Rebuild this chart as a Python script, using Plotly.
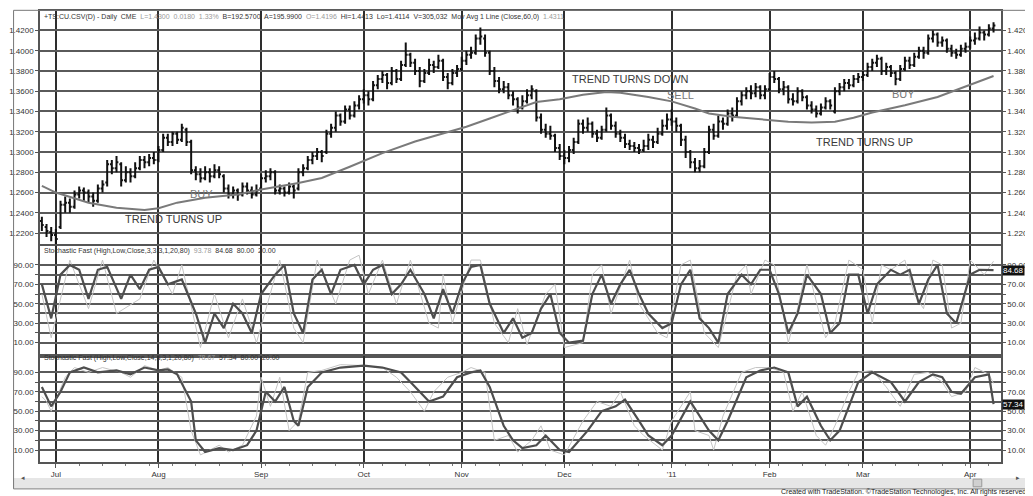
import pandas as pd
import plotly.graph_objects as go

# ---- data (Euro FX daily, Jun 2010 - Apr 2011) ----
dates = pd.bdate_range("2010-06-28", "2011-04-08")

opens = [1.232,1.226,1.221,1.218,1.226,1.248,1.250,1.246,1.258,1.262,
         1.260,1.256,1.252,1.264,1.270,1.288,1.284,1.288,1.272,1.280,
         1.276,1.284,1.292,1.290,1.294,1.292,1.302,1.314,1.310,1.318,
         1.312,1.322,1.310,1.282,1.278,1.274,1.280,1.276,1.282,1.276,
         1.264,1.258,1.262,1.258,1.266,1.262,1.258,1.264,1.274,1.276,
         1.280,1.262,1.264,1.260,1.266,1.264,1.280,1.284,1.292,1.296,
         1.300,1.300,1.318,1.324,1.336,1.330,1.342,1.336,1.346,1.352,
         1.356,1.352,1.366,1.372,1.376,1.368,1.380,1.372,1.386,1.396,
         1.388,1.380,1.370,1.378,1.386,1.384,1.390,1.374,1.368,1.378,
         1.382,1.390,1.396,1.398,1.412,1.412,1.398,1.380,1.370,1.362,
         1.364,1.356,1.352,1.344,1.350,1.356,1.360,1.334,1.322,1.318,
         1.316,1.304,1.296,1.294,1.302,1.310,1.328,1.324,1.328,1.318,
         1.314,1.322,1.336,1.326,1.318,1.314,1.308,1.306,1.304,1.302,
         1.306,1.312,1.310,1.318,1.326,1.332,1.330,1.326,1.312,1.300,
         1.290,1.284,1.286,1.300,1.322,1.316,1.330,1.328,1.338,1.336,
         1.350,1.356,1.360,1.358,1.364,1.356,1.362,1.374,1.372,1.362,
         1.364,1.352,1.350,1.360,1.354,1.346,1.342,1.338,1.344,1.350,
         1.340,1.360,1.364,1.368,1.366,1.372,1.374,1.376,1.384,1.388,
         1.392,1.380,1.384,1.378,1.372,1.382,1.390,1.386,1.394,1.400,
         1.398,1.412,1.416,1.408,1.410,1.402,1.398,1.396,1.402,1.404,
         1.410,1.412,1.418,1.416,1.422]
highs = [1.236,1.229,1.226,1.224,1.252,1.256,1.254,1.262,1.266,1.265,
         1.263,1.260,1.268,1.272,1.292,1.292,1.296,1.290,1.286,1.284,
         1.290,1.296,1.296,1.298,1.300,1.306,1.318,1.318,1.320,1.320,
         1.328,1.324,1.312,1.286,1.284,1.286,1.284,1.288,1.286,1.278,
         1.268,1.266,1.264,1.270,1.270,1.266,1.268,1.278,1.282,1.284,
         1.282,1.268,1.266,1.270,1.268,1.284,1.288,1.296,1.300,1.304,
         1.302,1.322,1.328,1.340,1.338,1.346,1.346,1.350,1.356,1.362,
         1.360,1.370,1.376,1.380,1.378,1.384,1.382,1.390,1.408,1.398,
         1.392,1.384,1.382,1.392,1.390,1.396,1.392,1.378,1.382,1.386,
         1.394,1.400,1.404,1.416,1.423,1.416,1.400,1.384,1.374,1.370,
         1.368,1.360,1.354,1.356,1.362,1.366,1.362,1.338,1.328,1.326,
         1.318,1.308,1.302,1.306,1.314,1.332,1.332,1.334,1.330,1.322,
         1.326,1.344,1.338,1.330,1.322,1.318,1.312,1.310,1.308,1.312,
         1.318,1.316,1.324,1.332,1.338,1.342,1.334,1.328,1.316,1.302,
         1.294,1.292,1.304,1.326,1.328,1.336,1.334,1.342,1.344,1.354,
         1.360,1.364,1.366,1.368,1.366,1.366,1.378,1.380,1.374,1.370,
         1.366,1.358,1.364,1.362,1.356,1.350,1.346,1.348,1.354,1.352,
         1.364,1.368,1.372,1.372,1.376,1.378,1.380,1.388,1.392,1.396,
         1.394,1.388,1.386,1.380,1.386,1.394,1.394,1.398,1.404,1.404,
         1.416,1.420,1.418,1.414,1.412,1.406,1.402,1.406,1.408,1.414,
         1.418,1.424,1.420,1.426,1.428]
lows = [1.222,1.216,1.212,1.209,1.224,1.240,1.240,1.244,1.254,1.252,
        1.250,1.246,1.250,1.260,1.266,1.278,1.280,1.266,1.270,1.270,
        1.274,1.282,1.284,1.286,1.288,1.290,1.300,1.306,1.306,1.308,
        1.310,1.306,1.278,1.272,1.270,1.272,1.270,1.274,1.274,1.260,
        1.254,1.254,1.252,1.256,1.258,1.254,1.256,1.262,1.270,1.272,
        1.258,1.258,1.256,1.258,1.254,1.262,1.276,1.282,1.288,1.292,
        1.290,1.298,1.314,1.320,1.326,1.328,1.332,1.334,1.342,1.348,
        1.346,1.350,1.362,1.368,1.362,1.366,1.368,1.370,1.384,1.384,
        1.376,1.364,1.368,1.376,1.378,1.382,1.370,1.362,1.366,1.374,
        1.380,1.386,1.392,1.396,1.406,1.394,1.376,1.364,1.358,1.358,
        1.352,1.346,1.338,1.342,1.348,1.352,1.330,1.318,1.314,1.312,
        1.300,1.292,1.288,1.290,1.298,1.308,1.318,1.320,1.314,1.310,
        1.312,1.320,1.322,1.314,1.310,1.304,1.302,1.300,1.298,1.300,
        1.302,1.304,1.308,1.316,1.322,1.326,1.320,1.306,1.294,1.284,
        1.280,1.280,1.284,1.298,1.312,1.314,1.322,1.326,1.330,1.334,
        1.346,1.352,1.352,1.354,1.352,1.352,1.360,1.368,1.358,1.356,
        1.348,1.346,1.348,1.350,1.342,1.338,1.334,1.336,1.342,1.342,
        1.338,1.356,1.360,1.362,1.364,1.368,1.370,1.374,1.380,1.384,
        1.376,1.376,1.374,1.366,1.370,1.380,1.382,1.384,1.392,1.392,
        1.396,1.408,1.404,1.404,1.398,1.394,1.392,1.394,1.398,1.402,
        1.406,1.410,1.410,1.414,1.418]
closes = [1.228,1.222,1.218,1.214,1.248,1.250,1.246,1.258,1.262,1.260,
          1.256,1.252,1.264,1.268,1.288,1.284,1.290,1.272,1.280,1.276,
          1.284,1.292,1.290,1.294,1.292,1.302,1.314,1.310,1.318,1.312,
          1.324,1.310,1.282,1.278,1.274,1.280,1.276,1.282,1.278,1.264,
          1.258,1.262,1.258,1.266,1.262,1.258,1.262,1.274,1.276,1.280,
          1.262,1.264,1.260,1.266,1.262,1.280,1.284,1.292,1.296,1.300,
          1.296,1.318,1.324,1.336,1.330,1.342,1.336,1.346,1.352,1.356,
          1.352,1.366,1.372,1.376,1.368,1.380,1.372,1.386,1.396,1.388,
          1.380,1.370,1.378,1.386,1.384,1.390,1.374,1.368,1.378,1.382,
          1.390,1.396,1.398,1.412,1.414,1.398,1.380,1.370,1.362,1.364,
          1.356,1.352,1.344,1.350,1.356,1.362,1.334,1.322,1.318,1.316,
          1.304,1.296,1.294,1.302,1.310,1.328,1.324,1.328,1.318,1.314,
          1.322,1.336,1.326,1.318,1.314,1.308,1.306,1.304,1.302,1.306,
          1.312,1.310,1.318,1.326,1.332,1.330,1.326,1.312,1.300,1.290,
          1.284,1.286,1.300,1.322,1.316,1.330,1.328,1.338,1.336,1.350,
          1.356,1.360,1.358,1.364,1.356,1.362,1.374,1.372,1.362,1.364,
          1.352,1.350,1.360,1.354,1.346,1.342,1.338,1.344,1.350,1.346,
          1.360,1.364,1.368,1.366,1.372,1.374,1.376,1.384,1.388,1.392,
          1.380,1.384,1.378,1.372,1.382,1.390,1.386,1.394,1.400,1.398,
          1.412,1.416,1.408,1.410,1.402,1.398,1.396,1.402,1.404,1.410,
          1.412,1.418,1.416,1.422,1.425]

# 60-day moving average, sampled at bar numbers
ma_bar = [0, 3, 10, 16, 22, 25, 29, 35, 42, 47, 55, 60, 66, 73, 80, 87, 91, 96,
          101, 106, 111, 116, 121, 124, 130, 135, 140, 143, 148, 153, 160, 165,
          170, 174, 178, 185, 192, 199, 204]
ma_val = [1.2665, 1.2600, 1.2500, 1.2450, 1.2428, 1.2444, 1.2500, 1.2549, 1.2580,
          1.2630, 1.2695, 1.2744, 1.2855, 1.2989, 1.3103, 1.3201, 1.3250, 1.3331,
          1.3413, 1.3494, 1.3520, 1.3566, 1.3592, 1.3586, 1.3543, 1.3500, 1.3430,
          1.3380, 1.3348, 1.3325, 1.3299, 1.3292, 1.3299, 1.3338, 1.3390, 1.3462,
          1.3543, 1.3664, 1.3750]

# Stochastic fast (3,3,3): slow line (dark) and fast line (light)
st1_bar = [0, 2, 4, 6, 8, 10, 12, 14, 17, 19, 21, 23, 25, 27, 30, 33, 35, 37, 39, 41,
           43, 45, 47, 50, 52, 54, 56, 58, 60, 62, 64, 67, 69, 71, 73, 75, 77, 79, 82, 84,
           86, 88, 90, 92, 94, 96, 99, 101, 103, 105, 107, 109, 111, 113, 116, 118, 120,
           122, 124, 126, 128, 130, 133, 135, 137, 139, 141, 143, 145, 147, 150, 152, 154,
           156, 158, 160, 162, 164, 167, 169, 171, 173, 175, 177, 179, 182, 184, 186, 188,
           190, 192, 194, 196, 199, 201, 204]
st1_val = [70, 35, 80, 90, 85, 55, 85, 88, 55, 80, 65, 85, 88, 70, 75, 40, 10, 40, 25, 50,
           40, 20, 60, 80, 90, 40, 20, 75, 85, 60, 85, 90, 70, 85, 90, 60, 70, 85, 60, 35,
           65, 40, 70, 88, 90, 50, 20, 35, 15, 20, 45, 60, 20, 10, 12, 60, 80,
           50, 70, 85, 60, 40, 25, 30, 70, 85, 35, 25, 10, 60, 80, 70, 85,
           85, 60, 20, 40, 80, 60, 20, 30, 80, 80, 40, 70, 85, 80, 85, 50,
           75, 90, 40, 30, 80, 85, 84.68]
k1_bar = [0, 2, 6, 10, 13, 16, 21, 24, 28, 30, 34, 37, 40, 43, 46, 51, 54, 56, 59, 63,
          66, 68, 70, 73, 76, 79, 83, 85, 86, 88, 92, 94, 97, 100, 102, 104, 108, 110, 112, 116,
          118, 120, 122, 126, 128, 132, 134, 137, 139, 142, 145, 149, 151, 152, 155, 157, 160,
          162, 164, 168, 170, 173, 176, 178, 180, 182, 185, 187, 189, 191, 193, 195, 197, 199,
          202, 204]
k1_val = [60, 15, 95, 45, 95, 40, 55, 95, 60, 90, 5, 60, 15, 55, 10, 95, 25, 10, 95, 50,
          95, 100, 60, 95, 50, 95, 30, 25, 80, 30, 95, 95, 30, 10, 45, 8, 60, 70, 5, 10,
          80, 90, 40, 95, 50, 20, 15, 90, 95, 20, 5, 80, 90, 60, 95, 90, 10,
          45, 90, 15, 30, 95, 85, 30, 90, 85, 95, 60, 45, 95, 90, 25, 30, 95,
          80, 93.78]

# Stochastic fast (14,3,3): slow line (dark) and fast line (light)
st2_bar = [0, 2, 4, 6, 9, 12, 16, 19, 22, 25, 27, 29, 32, 33, 35, 38, 41, 44, 46, 48,
           50, 52, 54, 55, 57, 60, 64, 69, 73, 77, 79, 83, 86, 89, 92, 94, 96, 99, 101, 103,
           106, 108, 111, 113, 117, 120, 123, 125, 128, 130, 133, 135, 139, 141, 143, 145,
           147, 151, 154, 157, 160, 162, 164, 167, 169, 171, 173, 175, 178, 182, 185, 188,
           191, 193, 195, 197, 200, 203, 204]
st2_val = [75, 55, 70, 90, 95, 90, 92, 88, 95, 92, 93, 88, 60, 20, 8, 12, 10, 15, 30, 70,
           60, 75, 40, 35, 75, 90, 95, 97, 95, 90, 80, 60, 65, 85, 90, 92, 75, 35, 20, 12,
           15, 25, 10, 8, 30, 50, 55, 62, 40, 25, 15, 25, 60, 45, 30, 20,
           40, 85, 92, 95, 90, 55, 65, 35, 20, 30, 55, 80, 90, 80, 60, 80,
           88, 85, 70, 68, 85, 88, 57.34]
k2_bar = [0, 1, 2, 5, 7, 10, 13, 17, 19, 22, 25, 27, 30, 32, 34, 36, 38, 40, 43, 46,
          47, 49, 51, 53, 55, 57, 60, 64, 69, 73, 76, 79, 82, 84, 87, 90, 92, 95, 97, 100,
          102, 105, 107, 109, 112, 116, 119, 122, 124, 127, 129, 133, 135, 139, 140, 143, 144,
          146, 150, 153, 156, 159, 161, 163, 166, 168, 170, 173, 175, 178, 181, 184, 187, 190,
          193, 195, 198, 200, 203, 204]
k2_val = [65, 60, 50, 85, 95, 90, 95, 90, 85, 97, 92, 95, 85, 30, 5, 10, 15, 8, 15, 45,
          85, 55, 85, 30, 40, 90, 92, 98, 97, 95, 85, 70, 50, 70, 85, 90, 95, 90, 20, 25,
          8, 20, 35, 10, 5, 40, 60, 55, 70, 35, 25, 10, 40, 70, 30, 25, 10,
          45, 90, 95, 95, 90, 50, 70, 25, 15, 35, 70, 90, 92, 75, 55, 88, 90,
          80, 65, 70, 95, 88, 78.67]

month_labels = ["Jul", "Aug", "Sep", "Oct", "Nov", "Dec", "'11", "Feb", "Mar", "Apr"]
price_ticks = [1.22, 1.24, 1.26, 1.28, 1.30, 1.32, 1.34, 1.36, 1.38, 1.40, 1.42]
stoch_ticks = [10, 20, 30, 40, 50, 60, 70, 80, 90]

# ---- figure ----
bars = list(range(len(dates)))
month_pos = [i for i in bars if i == 0 or dates[i].month != dates[i - 1].month][1:]
stoch_text = [f"{v:.2f}" if v % 20 == 10 else "" for v in stoch_ticks]

FONT = "Liberation Sans, Arial, sans-serif"
fig = go.Figure()
fig.add_trace(go.Ohlc(x=bars, open=opens, high=highs, low=lows, close=closes,
                      increasing=dict(line=dict(color="#111111", width=2)),
                      decreasing=dict(line=dict(color="#111111", width=2)),
                      tickwidth=0.4, xaxis="x", yaxis="y", hoverinfo="skip"))
fig.add_trace(go.Scatter(x=ma_bar, y=ma_val, mode="lines", xaxis="x", yaxis="y",
                         line=dict(color="#7a7a7a", width=2)))
fig.add_trace(go.Scatter(x=k1_bar, y=k1_val, mode="lines", xaxis="x2", yaxis="y2",
                         line=dict(color="#c4c4c4", width=1)))
fig.add_trace(go.Scatter(x=st1_bar, y=st1_val, mode="lines", xaxis="x2", yaxis="y2",
                         line=dict(color="#4e4e4e", width=2.2)))
fig.add_trace(go.Scatter(x=k2_bar, y=k2_val, mode="lines", xaxis="x3", yaxis="y3",
                         line=dict(color="#c4c4c4", width=1)))
fig.add_trace(go.Scatter(x=st2_bar, y=st2_val, mode="lines", xaxis="x3", yaxis="y3",
                         line=dict(color="#4e4e4e", width=2.2)))
# anchors for right-hand label axes
for ax, ya in (("x", "y4"), ("x2", "y5"), ("x3", "y6")):
    fig.add_trace(go.Scatter(x=[None], y=[None], xaxis=ax, yaxis=ya, hoverinfo="skip"))

xr = [-0.4, 205.6]
common_x = dict(range=xr, tickvals=month_pos, ticktext=month_labels, showgrid=True,
                gridcolor="#2e2e2e", gridwidth=1.5, zeroline=False, showline=True,
                mirror=True, linecolor="#555", linewidth=1.5, fixedrange=True)
tickfont = dict(family=FONT, size=8, color="#333")

d_price = [0.4834, 1.0]
d_st1 = [0.236, 0.479]
d_st2 = [0.0, 0.234]
pr = [1.2092, 1.4392]
r1 = [-3.3, 109.5]
r2 = [-2.3, 106.4]

def yax(domain, rng, tv, tt, anchor, side="left", overlay=None, grid=True):
    d = dict(domain=domain, range=rng, tickvals=tv, ticktext=tt, anchor=anchor,
             side=side, showgrid=grid, gridcolor="#5a5a5a", gridwidth=1.5,
             zeroline=False, showline=True, linecolor="#555", linewidth=1.5,
             ticks="outside", ticklen=3, tickcolor="#555", tickfont=tickfont,
             fixedrange=True)
    if overlay:
        d["overlaying"] = overlay
    return d

price_text = [f"{v:.4f}" for v in price_ticks]
# the page body adds an 8px offset, so the figure is 8px smaller on each axis
fig.update_layout(
    width=1025, height=488, margin=dict(l=27, r=30, t=1, b=34),
    paper_bgcolor="white", plot_bgcolor="white", showlegend=False,
    font=dict(family=FONT, size=8, color="#333"),
    xaxis=dict(common_x, domain=[0, 1], anchor="y", showticklabels=False,
               rangeslider=dict(visible=False)),
    xaxis2=dict(common_x, domain=[0, 1], anchor="y2", showticklabels=False),
    xaxis3=dict(common_x, domain=[0, 1], anchor="y3", showticklabels=True,
                ticks="outside", ticklen=4, tickcolor="#555", tickfont=tickfont,
                minor=dict(ticks="outside", ticklen=2, tickcolor="#777", dtick=5, tick0=3,
                           showgrid=False)),
    yaxis=yax(d_price, pr, price_ticks, price_text, "x"),
    yaxis2=yax(d_st1, r1, stoch_ticks, stoch_text, "x2"),
    yaxis3=yax(d_st2, r2, stoch_ticks, stoch_text, "x3"),
    yaxis4=yax(d_price, pr, price_ticks, price_text, "x", "right", "y", False),
    yaxis5=yax(d_st1, r1, stoch_ticks, stoch_text, "x2", "right", "y2", False),
    yaxis6=yax(d_st2, r2, stoch_ticks, stoch_text, "x3", "right", "y3", False),
)

ann = []
def note(text, x, y, xref="paper", yref="paper", size=7, color="#333", **kw):
    ann.append(dict(text=text, x=x, y=y, xref=xref, yref=yref, showarrow=False,
                    font=dict(family=FONT, size=size, color=color), **kw))

g = "<span style='color:#999'>%s</span>"
note("+TS:CU.CSV(D) - Daily  CME  " + g % "L=1.4300  0.0180  1.33%" +
     "  B=192.5700  A=195.9900  " + g % "O=1.4196" +
     "  Hi=1.4413  Lo=1.4114  V=305,032  Mov Avg 1 Line (Close,60,0)  " + g % "1.4311",
     0.002, 0.9868, xanchor="left", yanchor="middle")
note("Stochastic Fast (High,Low,Close,3,3,3,1,20,80)  " + g % "93.78" +
     "  84.68  80.00  20.00", 0.002, 0.468, xanchor="left", yanchor="middle")
note("Stochastic Fast (High,Low,Close,14,3,3,1,20,80)  " + g % "78.67" +
     "  57.34  80.00  20.00", 0.002, 0.2296, xanchor="left", yanchor="middle")

note("TREND TURNS UP", 28.3, 1.2338, "x", "y", size=11, color="#3a3a3a")
note("BUY", 34.3, 1.2583, "x", "y", size=11, color="#777")
note("TREND TURNS DOWN", 126.2, 1.3723, "x", "y", size=11, color="#3a3a3a")
note("SELL", 136.8, 1.3566, "x", "y", size=11, color="#777")
note("TREND TURNS UP", 176.4, 1.3103, "x", "y", size=11, color="#3a3a3a")
note("BUY", 184.7, 1.3576, "x", "y", size=11, color="#777")

note("84.68", 1.0, 84.68, "paper", "y2", size=8, color="white", bgcolor="#111",
     xanchor="left", yanchor="middle", xshift=1, borderpad=0)
note("57.34", 1.0, 57.34, "paper", "y3", size=8, color="white", bgcolor="#111",
     xanchor="left", yanchor="middle", xshift=1, borderpad=0)
note("Created with TradeStation. \u00a9TradeStation Technologies, Inc. All rights reserved.",
     1.030, -0.066, xanchor="right", yanchor="middle", size=7, color="#222")
note("\u25c2", -0.022, -0.0465, size=7, color="#555")
note("\u25b8", 1.022, -0.0465, size=7, color="#555")
fig.update_layout(annotations=ann)

fig.update_layout(shapes=[
    dict(type="rect", xref="paper", yref="paper", x0=-0.0279, x1=1.029, y0=-0.0574,
         y1=-0.0353, fillcolor="#e6e6e6", line=dict(width=0), layer="below"),
    dict(type="rect", xref="paper", yref="paper", x0=0.971, x1=0.980, y0=-0.055,
         y1=-0.038, fillcolor="#d0d0d0", line=dict(color="#999", width=1)),
    dict(type="rect", xref="paper", yref="paper", x0=-0.0275, x1=1.029, y0=-0.0596,
         y1=1.0015, line=dict(color="#777", width=1), fillcolor="rgba(0,0,0,0)"),
])

fig.write_html("out.html")
